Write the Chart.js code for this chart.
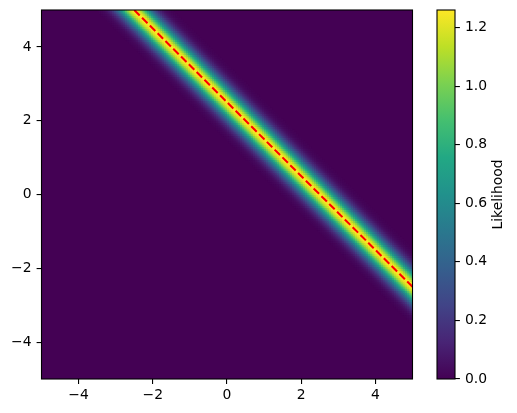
<!DOCTYPE html>
<html>
<head>
<meta charset="utf-8">
<script src="https://cdn.jsdelivr.net/npm/chart.js@4"></script>
<style>
  html, body { margin: 0; padding: 0; background: #fff; }
  #wrap { width: 517px; height: 413px; position: relative; }
</style>
</head>
<body>
<div id="wrap"><canvas id="likelihoodChart"></canvas></div>
<script>
// Red dashed line (the fitted line)
const lineX = [-2.5, 5];
const lineY = [5, -2.5];
const lineSlope = -1;
const lineIntercept = 2.5;

// Likelihood read across the band, by vertical distance from the line (0, 0.05, 0.10, ...)
const profileStep = 0.05;
const profileValues = [1.26, 1.25, 1.20, 1.13, 1.03, 0.92, 0.80, 0.68, 0.57, 0.46, 0.36,
                       0.28, 0.21, 0.15, 0.11, 0.076, 0.051, 0.034, 0.022, 0.014, 0.008];

// Heatmap grid: cell centres on both axes
const gridStep = 0.05;
const gridCenters = [];
for (let i = 0; i < 200; i++) gridCenters.push(-4.975 + i * gridStep);

// Tick labels
const xTicks = [-4, -2, 0, 2, 4];
const yTicks = [-4, -2, 0, 2, 4];
const cbTicks = [0, 0.2, 0.4, 0.6, 0.8, 1.0, 1.2];

const vmax = Math.max(...profileValues);

// viridis colormap stops
const viridis = ['#440154', '#482475', '#414487', '#355f8d', '#2a788e', '#21918c',
                 '#22a884', '#44bf70', '#7ad151', '#bddf26', '#fde725'];
const viridisRgb = viridis.map(h => [1, 3, 5].map(k => parseInt(h.substr(k, 2), 16)));

function colorFor(v) {
    const t = Math.min(1, Math.max(0, v / vmax)) * (viridisRgb.length - 1);
    const i = Math.min(viridisRgb.length - 2, Math.floor(t));
    const f = t - i;
    const a = viridisRgb[i], b = viridisRgb[i + 1];
    return `rgb(${a.map((c, k) => Math.round(c + (b[k] - c) * f)).join(',')})`;
}

function likelihoodAt(x, y) {
    const k = Math.abs(Math.round((y - (lineSlope * x + lineIntercept)) / profileStep));
    return k < profileValues.length ? profileValues[k] : 0;
}

const minus = v => String(v).replace('-', '\u2212');

// Draw heatmap cells through the chart scales
const heatmapPlugin = {
    id: 'heatmap',
    beforeDatasetsDraw(chart) {
        const { ctx, chartArea: a, scales: { x, y } } = chart;
        ctx.save();
        ctx.beginPath();
        ctx.rect(a.left, a.top, a.right - a.left, a.bottom - a.top);
        ctx.clip();
        ctx.fillStyle = colorFor(0);
        ctx.fillRect(a.left, a.top, a.right - a.left, a.bottom - a.top);
        const h = gridStep / 2;
        gridCenters.forEach(cy => {
            const y0 = y.getPixelForValue(cy + h);
            const y1 = y.getPixelForValue(cy - h);
            gridCenters.forEach(cx => {
                const v = likelihoodAt(cx, cy);
                if (v <= 0) return;
                const x0 = x.getPixelForValue(cx - h);
                const x1 = x.getPixelForValue(cx + h);
                ctx.fillStyle = colorFor(v);
                ctx.fillRect(x0, y0, x1 - x0 + 0.6, y1 - y0 + 0.6);
            });
        });
        ctx.restore();
    },
    afterDraw(chart) {
        const { ctx, chartArea: a, scales: { cb } } = chart;
        ctx.save();
        // plot frame
        ctx.strokeStyle = '#000';
        ctx.lineWidth = 1.1;
        ctx.strokeRect(a.left, a.top, a.right - a.left, a.bottom - a.top);
        // colorbar
        const cbRight = cb.left;
        const cbLeft = cbRight - 18;
        const top = cb.getPixelForValue(vmax);
        const bottom = cb.getPixelForValue(0);
        const grad = ctx.createLinearGradient(0, bottom, 0, top);
        viridis.forEach((c, i) => grad.addColorStop(i / (viridis.length - 1), c));
        ctx.fillStyle = grad;
        ctx.fillRect(cbLeft, top, cbRight - cbLeft, bottom - top);
        ctx.strokeRect(cbLeft, top, cbRight - cbLeft, bottom - top);
        // colorbar label
        ctx.translate(498.3, (top + bottom) / 2);
        ctx.rotate(-Math.PI / 2);
        ctx.fillStyle = '#000';
        ctx.font = '13.9px "DejaVu Sans"';
        ctx.textAlign = 'center';
        ctx.textBaseline = 'middle';
        ctx.fillText('Likelihood', 0, 0);
        ctx.restore();
    }
};

Chart.defaults.font.family = '"DejaVu Sans", sans-serif';
Chart.defaults.font.size = 13.9;
Chart.defaults.color = '#000';

const tickGrid = { display: true, drawOnChartArea: false, drawTicks: true, tickLength: 4.9, color: '#000', lineWidth: 1.1 };

// fixed axis sizes, no extra label padding
const fixWidth = w => s => { s.width = w; s.paddingTop = 0; s.paddingBottom = 0; };

new Chart(document.getElementById('likelihoodChart'), {
    type: 'scatter',
    data: {
        datasets: [{
            data: lineX.map((v, i) => ({ x: v, y: lineY[i] })),
            showLine: true,
            borderColor: '#ff0000',
            borderWidth: 2.08,
            borderDash: [7.7, 3.3],
            pointRadius: 0,
            fill: false
        }]
    },
    options: {
        responsive: true,
        maintainAspectRatio: false,
        animation: false,
        layout: { padding: { top: 10, left: 0, right: 0, bottom: 0 } },
        plugins: { legend: { display: false }, tooltip: { enabled: false } },
        scales: {
            x: {
                type: 'linear', min: -5, max: 5,
                afterBuildTicks: s => { s.ticks = xTicks.map(v => ({ value: v })); },
                afterFit: s => { s.height = 34; s.paddingLeft = 0; s.paddingRight = 0; },
                ticks: { padding: 3, callback: minus, maxRotation: 0 },
                grid: tickGrid,
                border: { display: false }
            },
            y: {
                type: 'linear', min: -5, max: 5,
                afterBuildTicks: s => { s.ticks = yTicks.map(v => ({ value: v })); },
                afterFit: fixWidth(41.5),
                ticks: { padding: 5, callback: minus },
                grid: tickGrid,
                border: { display: false }
            },
            gap: {
                type: 'linear', position: 'right', weight: 0,
                afterFit: fixWidth(42.5),
                ticks: { display: false },
                grid: { display: false },
                border: { display: false }
            },
            cb: {
                type: 'linear', position: 'right', weight: 1, min: 0, max: vmax,
                afterBuildTicks: s => { s.ticks = cbTicks.map(v => ({ value: v })); },
                afterFit: fixWidth(62),
                ticks: { padding: 5, callback: v => v.toFixed(1) },
                grid: tickGrid,
                border: { display: false }
            }
        }
    },
    plugins: [heatmapPlugin]
});
</script>
</body>
</html>
